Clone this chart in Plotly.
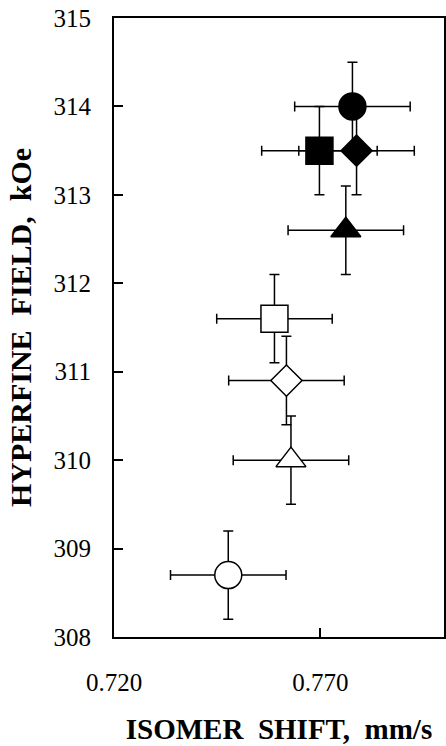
import plotly.graph_objects as go

# Data
isomer_shift = [0.7778, 0.7698, 0.7788, 0.7762, 0.7589, 0.7618, 0.7629, 0.7477]
hyperfine_field = [314.0, 313.5, 313.5, 312.6, 311.6, 310.9, 310.0, 308.7]
shift_err = [0.014, 0.014, 0.014, 0.014, 0.014, 0.014, 0.014, 0.014]
field_err = [0.5, 0.5, 0.5, 0.5, 0.5, 0.5, 0.5, 0.5]
symbols = ["circle", "square", "diamond", "triangle-up",
           "square", "diamond", "triangle-up", "circle"]
fills = ["black", "black", "black", "black", "white", "white", "white", "white"]
y_ticks = [308, 309, 310, 311, 312, 313, 314, 315]
x_ticks = [0.720, 0.770]
x_tick_labels = ["0.720", "0.770"]

size_by_symbol = {"circle": 27, "square": 27, "diamond": 24, "triangle-up": 26}
sizes = [size_by_symbol[s] for s in symbols]

FONT = "Liberation Serif"
NB = "\u00a0"

fig = go.Figure()
fig.add_trace(go.Scatter(
    x=isomer_shift, y=hyperfine_field, mode="markers",
    error_x=dict(type="data", array=shift_err, color="black", thickness=1.5, width=5),
    error_y=dict(type="data", array=field_err, color="black", thickness=1.5, width=5),
    marker=dict(symbol=symbols, size=sizes, color=fills, opacity=1,
                line=dict(color="black", width=1.5)),
    showlegend=False, hoverinfo="skip",
))

fig.update_layout(
    width=446, height=746,
    margin=dict(l=114, r=0, t=18, b=109),
    paper_bgcolor="white", plot_bgcolor="white",
    font=dict(family=FONT, color="black", size=25),
    xaxis=dict(
        range=[0.720, 0.800], tickvals=x_ticks, ticktext=x_tick_labels,
        ticks="inside", ticklen=9, tickwidth=1.5, tickcolor="black",
        showline=True, linecolor="black", linewidth=2, mirror=True,
        showgrid=False, zeroline=False,
        tickfont=dict(family=FONT, size=25),
        ticklabelstandoff=22,
        title=dict(text="<b>ISOMER" + NB + " SHIFT," + NB + " mm/s</b>",
                   font=dict(family=FONT, size=29), standoff=24),
    ),
    yaxis=dict(
        range=[308, 315], tickvals=y_ticks,
        ticks="inside", ticklen=9, tickwidth=1.5, tickcolor="black",
        showline=True, linecolor="black", linewidth=2, mirror=True,
        showgrid=False, zeroline=False,
        tickfont=dict(family=FONT, size=25),
        ticklabelstandoff=16,
        title=dict(text="<b>HYPERFINE" + NB + " FIELD," + NB + " kOe</b>",
                   font=dict(family=FONT, size=30), standoff=13),
    ),
)

fig.write_html(
    "out.html",
    config={"displayModeBar": False},
    post_script="document.body.style.margin='0';"
                "document.documentElement.style.overflow='hidden';",
)
